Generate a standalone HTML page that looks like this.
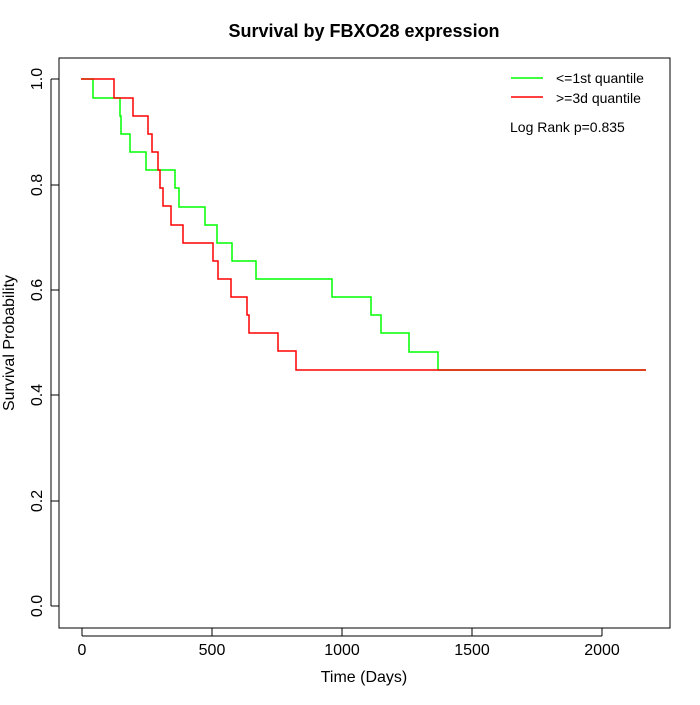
<!DOCTYPE html>
<html><head><meta charset="utf-8"><style>body{margin:0;background:#fff}</style></head><body>
<svg width="700" height="700" xmlns="http://www.w3.org/2000/svg" font-family="Liberation Sans, sans-serif">
<rect width="700" height="700" fill="#fff"/>
<text x="364" y="37" font-size="18" font-weight="bold" text-anchor="middle">Survival by FBXO28 expression</text>
<rect x="59" y="58" width="611" height="570" fill="none" stroke="#000"/>
<g stroke="#000" fill="none">
<path d="M82 628V636M212 628V636M342 628V636M472 628V636M602 628V636M82 636H602"/>
<path d="M59 606H51M59 501H51M59 395H51M59 290H51M59 185H51M59 79H51M51 79V606"/>
</g>
<g font-size="16" text-anchor="middle">
<text x="82" y="655">0</text><text x="212" y="655">500</text><text x="342" y="655">1000</text><text x="472" y="655">1500</text><text x="602" y="655">2000</text>
<text x="364" y="682">Time (Days)</text>
</g>
<g font-size="16" text-anchor="middle">
<text transform="translate(42,606) rotate(-90)">0.0</text>
<text transform="translate(42,501) rotate(-90)">0.2</text>
<text transform="translate(42,395) rotate(-90)">0.4</text>
<text transform="translate(42,290) rotate(-90)">0.6</text>
<text transform="translate(42,185) rotate(-90)">0.8</text>
<text transform="translate(42,79) rotate(-90)">1.0</text>
<text transform="translate(14,343) rotate(-90)">Survival Probability</text>
</g>
<path fill="none" stroke="#00ff00" stroke-width="1.5" d="M81 79H93V98H120V116H121V134H130V152H146V170H175V188H179V207H205V225H217V243H232V261H256V279H332V297H371V315H381V333H409V352H438V370H646"/>
<path fill="none" stroke="#ff0000" stroke-width="1.5" d="M81 79H114V98H133V116H148V134H152V152H158V170H160V188H163V206H171V225H183V243H213V261H218V279H231V297H247V315H249V333H278V351H296V370H646"/>
<line x1="511" y1="78" x2="543" y2="78" stroke="#00ff00" stroke-width="1.5"/>
<line x1="511" y1="97" x2="543" y2="97" stroke="#ff0000" stroke-width="1.5"/>
<g font-size="14">
<text x="556" y="83">&lt;=1st quantile</text>
<text x="556" y="103">&gt;=3d quantile</text>
<text x="510" y="132">Log Rank p=0.835</text>
</g>
</svg>
</body></html>
